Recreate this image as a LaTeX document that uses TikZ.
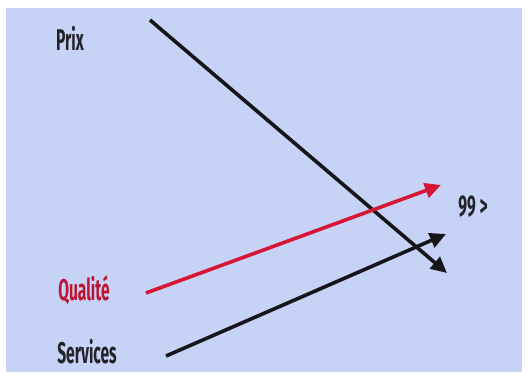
\documentclass[tikz,border=0pt]{standalone}
\usepackage{fontspec}
\newfontfamily\cond[FakeStretch=0.52]{Fira Sans}
\usetikzlibrary{arrows.meta}
\definecolor{bgblue}{RGB}{198,210,246}
\definecolor{arrred}{RGB}{214,22,52}
\definecolor{txtred}{RGB}{190,20,50}
\definecolor{txtdark}{RGB}{35,35,40}
\definecolor{linedark}{RGB}{22,22,26}
\tikzset{
  lbl/.style={font=\cond\fontsize{30}{32}\selectfont\bfseries, text=txtdark, inner sep=0pt},
  arr/.style={line width=3.6pt, -{Triangle[length=16pt,width=15pt]}, linedark},
}
\begin{document}
\begin{tikzpicture}[x=1pt,y=-1pt]
\useasboundingbox (0,0) rectangle (528,376);
\fill[white] (0,0) rectangle (528,376);
\fill[bgblue] (6,8) rectangle (522,372);
\node[lbl] (prix) at (70,38) {Prix};
\node[lbl, text=txtred] (qual) at (84,290) {Qualité};
\node[lbl] (serv) at (87,352) {Services};
\node[lbl] (nn) at (473,207) {99 >};
\coordinate (p1) at (150,20);
\coordinate (p2) at (447,273);
\coordinate (q1) at (146,293);
\coordinate (q2) at (441,185);
\coordinate (s1) at (166,356);
\coordinate (s2) at (446,234);
\draw[arr] (p1) -- (p2);
\draw[arr, arrred] (q1) -- (q2);
\draw[arr] (s1) -- (s2);
\end{tikzpicture}
\end{document}
